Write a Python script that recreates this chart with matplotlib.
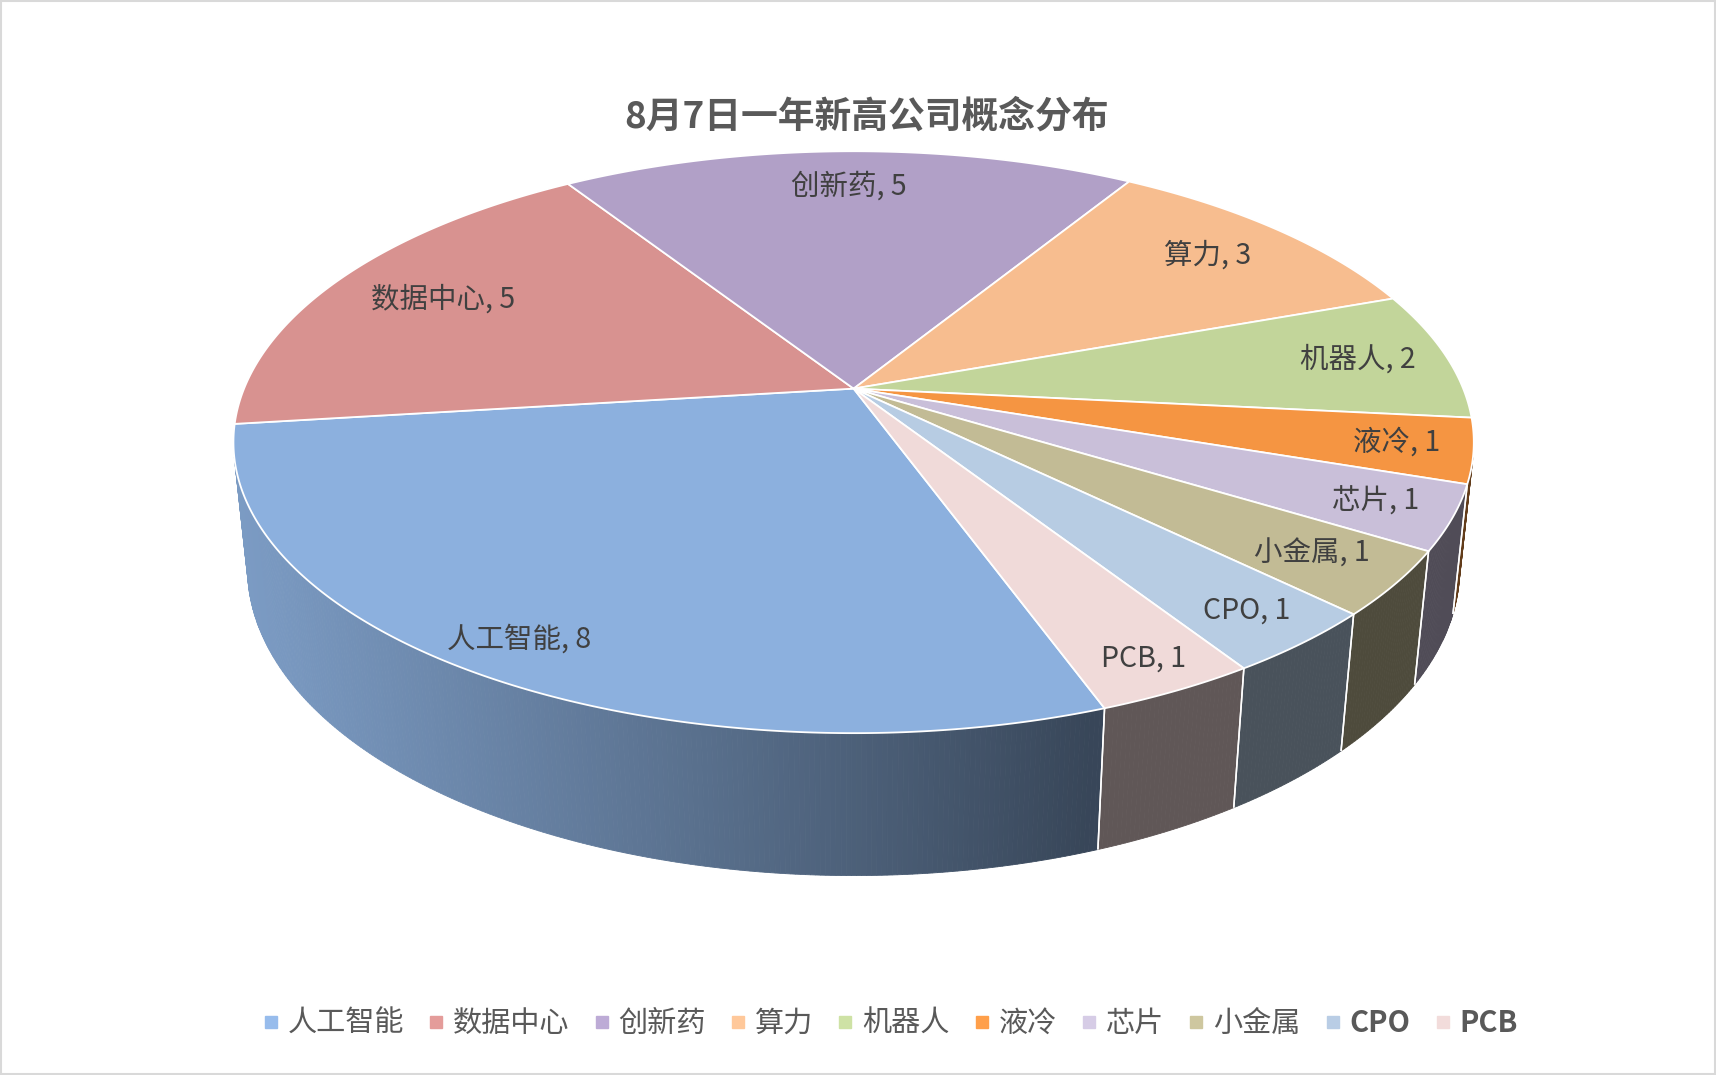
import numpy as np
import matplotlib
matplotlib.use('Agg')
import matplotlib.pyplot as plt
from matplotlib.patches import Polygon, Rectangle
from matplotlib.lines import Line2D
from matplotlib.colors import to_rgb

plt.rcParams['font.family'] = ['Noto Sans CJK SC', 'DejaVu Sans']

# ---------------- data ----------------
categories = ['人工智能', '数据中心', '创新药', '算力', '机器人', '液冷', '芯片', '小金属', 'CPO', 'PCB']
values = [8, 5, 5, 3, 2, 1, 1, 1, 1, 1]
title = '8月7日一年新高公司概念分布'

# ---------------- style ----------------
face_colors = ['#8CB0DE', '#D89290', '#B1A0C7', '#F7BD8F', '#C2D59A',
               '#F59542', '#C9BFD9', '#C2BB95', '#B7CCE3', '#F0DAD9']
legend_colors = ['#97BCEC', '#E49C9A', '#BDABD6', '#FFC89A', '#CEE2A5',
                 '#FF9F4A', '#D6CCE6', '#CEC79F', '#B9CDE5', '#F2DCDB']
label_r = [0.90, 0.79, 0.83, 0.82, 0.85, 0.88, 0.88, 0.86, 0.89, 0.91]

W, H = 1568, 982
fig = plt.figure(figsize=(17.16, 10.75), dpi=100)
ax = fig.add_axes([0, 0, 1, 1])
ax.set_xlim(0, W)
ax.set_ylim(H, 0)
ax.axis('off')

# perspective camera for a tilted disk
CX, CY = 780.0, 355.0
A = 557.0
SIN_A = 0.461
COS_A = np.sqrt(1 - SIN_A ** 2)
L = 4.82
F = A * L
THICK = 0.235
D_CAM = L * COS_A
START = -70.1  # math angle of first slice edge, slices go clockwise


def proj(X, Z, Y=0.0):
    depth = L - Y * SIN_A + Z * COS_A
    ycam = Y * COS_A + Z * SIN_A
    return CX + F * X / depth, CY - F * ycam / depth


def rim(theta_deg, Y=0.0, r=1.0):
    t = np.radians(theta_deg)
    return proj(r * np.cos(t), r * np.sin(t), Y)


def shade(theta_deg):
    f = 0.39 + 0.451 * (np.cos(np.radians(theta_deg - 195.0)) + 0.087)
    return float(np.clip(f, 0.40, 1.0))


total = float(sum(values))
bounds = [START]
for v in values:
    bounds.append(bounds[-1] - 360.0 * v / total)

# visible wall interval (outward normal faces camera)
s0 = np.degrees(np.arcsin(1.0 / D_CAM))
vis_lo, vis_hi = -180.0 + s0, -s0

# ---- walls ----
for i, v in enumerate(values):
    hi, lo = bounds[i], bounds[i + 1]
    base = np.array(to_rgb(face_colors[i]))
    for shift in (-360.0, 0.0, 360.0):
        a0 = max(lo, vis_lo + shift)
        a1 = min(hi, vis_hi + shift)
        if a1 <= a0:
            continue
        n = max(2, int((a1 - a0) / 0.4) + 1)
        th = np.linspace(a0, a1, n)
        for k in range(n - 1):
            t1, t2 = th[k], th[k + 1]
            p = [rim(t1), rim(t2), rim(t2, -THICK), rim(t1, -THICK)]
            c = np.clip(base * shade(0.5 * (t1 + t2) - shift), 0, 1)
            ax.add_patch(Polygon(p, closed=True, fc=c, ec=c, lw=0.6, zorder=2))
        # white separators at slice boundaries
        for b in (a0, a1):
            if abs(b - lo) < 1e-6 or abs(b - hi) < 1e-6:
                x1, y1 = rim(b)
                x2, y2 = rim(b, -THICK)
                ax.plot([x1, x2], [y1, y2], color='white', lw=1.1, zorder=3,
                        solid_capstyle='butt')

# ---- top faces ----
for i, v in enumerate(values):
    hi, lo = bounds[i], bounds[i + 1]
    n = max(3, int((hi - lo) / 0.5) + 1)
    th = np.linspace(hi, lo, n)
    pts = [proj(0.0, 0.0)] + [rim(t) for t in th]
    ax.add_patch(Polygon(pts, closed=True, fc=face_colors[i], ec='white',
                         lw=1.3, joinstyle='round', zorder=4))

# ---- data labels ----
for i, v in enumerate(values):
    mid = 0.5 * (bounds[i] + bounds[i + 1])
    x, y = rim(mid, 0.0, label_r[i])
    ax.text(x, y, f'{categories[i]}, {v}', ha='center', va='center',
            fontsize=20.5, color='#404040', zorder=6)

# ---- title ----
ax.text(792, 107, title, ha='center', va='center', fontsize=26.5,
        fontweight='bold', color='#595959', zorder=6)

# ---- legend ----
handles = [Line2D([], [], marker='s', linestyle='none', markersize=8.5,
                  markerfacecolor=c, markeredgecolor=c) for c in legend_colors]
leg = ax.legend(handles, categories, loc='center', bbox_to_anchor=(0.519, 1 - 935 / 982),
                bbox_transform=fig.transFigure, ncol=len(categories), frameon=False,
                fontsize=21, handlelength=0.5, handletextpad=0.33,
                columnspacing=0.85, borderpad=0, borderaxespad=0)
for t, name in zip(leg.get_texts(), categories):
    t.set_color('#595959')
    if name.isascii():
        t.set_fontweight('bold')

# ---- chart border ----
fig.patches.append(Rectangle((0.0005, 0.0008), 0.999, 0.9985, transform=fig.transFigure,
                             fill=False, ec='#D9D9D9', lw=1.5))

fig.savefig('out.png', dpi=100, facecolor='white')
